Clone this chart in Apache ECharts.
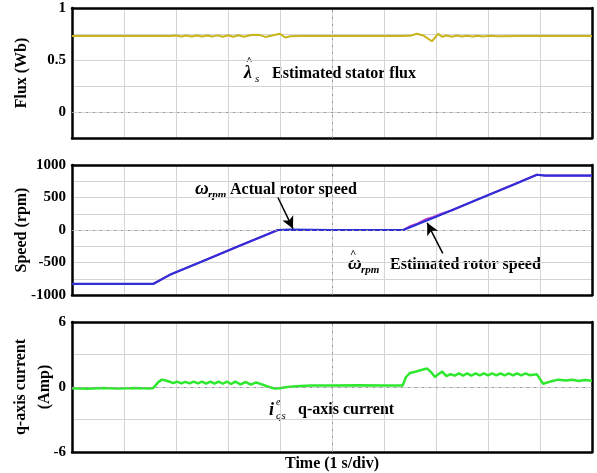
<!DOCTYPE html>
<html>
<head>
<meta charset="utf-8">
<script src="https://cdn.jsdelivr.net/npm/echarts@6/dist/echarts.min.js"></script>
<style>
  html, body { margin: 0; padding: 0; background: #fff; }
  #chart { width: 597px; height: 473px; }
</style>
</head>
<body>
<div id="chart"></div>
<script>
// tick labels shown on each panel
const fluxLabels = ['1', '0.5', '0'];
const speedLabels = ['1000', '500', '0', '-500', '-1000'];
const currentLabels = ['6', '0', '-6'];

// estimated stator flux (Wb)
const fluxData = [
  [0, 0.73], [0.5, 0.73], [1.0, 0.731], [1.5, 0.73], [1.9, 0.731],
  [2.0, 0.735], [2.1, 0.726], [2.2, 0.735], [2.3, 0.726], [2.4, 0.736],
  [2.5, 0.725], [2.6, 0.736], [2.7, 0.725], [2.8, 0.737], [2.9, 0.724],
  [3.0, 0.738], [3.1, 0.724], [3.2, 0.738], [3.3, 0.723], [3.45, 0.74],
  [3.6, 0.742], [3.72, 0.722], [3.85, 0.735], [4.0, 0.752], [4.1, 0.716],
  [4.2, 0.728], [4.4, 0.731], [4.8, 0.73], [5.3, 0.731], [5.8, 0.73],
  [6.3, 0.73], [6.5, 0.732], [6.63, 0.752], [6.76, 0.735], [6.92, 0.68],
  [7.04, 0.752], [7.12, 0.722], [7.2, 0.736], [7.3, 0.724], [7.4, 0.735],
  [7.5, 0.725], [7.6, 0.734], [7.7, 0.726], [7.8, 0.733], [7.9, 0.727],
  [8.0, 0.732], [8.2, 0.729], [8.6, 0.731], [9.0, 0.73], [9.5, 0.73], [10, 0.73]
];

// actual rotor speed (rpm)
const speedActual = [
  [0, -830], [1.0, -830], [1.56, -830], [1.88, -690], [2.5, -485],
  [3.2, -250], [3.96, 0], [4.2, 5], [5.0, 0], [6.0, 0], [6.37, 0],
  [7.0, 205], [7.8, 470], [8.5, 700], [8.94, 850], [9.1, 838], [10, 838]
];

// estimated rotor speed (rpm)
const speedEstimated = [
  [0, -830], [1.56, -830], [1.88, -690], [3.2, -250], [3.96, 0],
  [5.0, 0], [6.37, 0], [6.5, 60], [6.65, 100], [6.8, 165], [6.95, 200],
  [7.1, 250], [7.3, 300], [7.8, 470], [8.94, 850], [9.1, 838], [10, 838]
];

// q-axis current (Amp)
const currentData = [
  [0, -0.12], [0.3, -0.16], [0.6, -0.1], [0.9, -0.15], [1.2, -0.1], [1.5, -0.14],
  [1.56, -0.1], [1.66, 0.45], [1.73, 0.68], [1.8, 0.6], [1.88, 0.48], [1.95, 0.36],
  [2.02, 0.5], [2.1, 0.33], [2.18, 0.48], [2.26, 0.33], [2.34, 0.49], [2.42, 0.33],
  [2.5, 0.5], [2.58, 0.32], [2.66, 0.5], [2.74, 0.31], [2.82, 0.5], [2.9, 0.3],
  [2.98, 0.5], [3.06, 0.28], [3.14, 0.5], [3.24, 0.25], [3.34, 0.46], [3.44, 0.22],
  [3.54, 0.42], [3.64, 0.26], [3.76, 0.05], [3.9, -0.15], [4.0, -0.12], [4.1, -0.02],
  [4.3, 0.08], [4.6, 0.14], [5.0, 0.15], [5.5, 0.16], [6.0, 0.15], [6.36, 0.15],
  [6.42, 0.9], [6.5, 1.3], [6.6, 1.4], [6.7, 1.55], [6.83, 1.7], [6.9, 1.4],
  [6.98, 0.92], [7.05, 1.2], [7.12, 1.42], [7.2, 1.0], [7.28, 1.18], [7.36, 1.05],
  [7.44, 1.25], [7.52, 1.06], [7.6, 1.26], [7.68, 1.06], [7.76, 1.25], [7.84, 1.07],
  [7.92, 1.26], [8.0, 1.07], [8.08, 1.25], [8.16, 1.08], [8.24, 1.26], [8.32, 1.08],
  [8.4, 1.25], [8.48, 1.08], [8.56, 1.26], [8.64, 1.08], [8.72, 1.25], [8.8, 1.09],
  [8.94, 1.17], [9.06, 0.3], [9.2, 0.5], [9.35, 0.68], [9.5, 0.6], [9.62, 0.66],
  [9.74, 0.56], [9.86, 0.64], [10, 0.58]
];

const serif = "'Liberation Serif', 'Times New Roman', serif";
const L = 72, W = 520, H = 130;
const tops = [8, 165, 322];
const frame = { show: true, onZero: false, lineStyle: { color: '#000', width: 2.5 } };
const gridLine = { show: true, lineStyle: { color: '#d4d4d4', width: 1 } };

const chart = echarts.init(document.getElementById('chart'));

function xAxisFor(i, extra) {
  return Object.assign({
    type: 'value', gridIndex: i, min: 0, max: 10, interval: 1, position: 'bottom',
    axisLine: frame, axisTick: { show: false }, axisLabel: { show: false },
    splitLine: gridLine
  }, extra || {});
}

function yAxisFor(i, min, max, interval, labels, name, nameGap) {
  return {
    type: 'value', gridIndex: i, min: min, max: max, interval: interval, position: 'left',
    axisLine: frame, axisTick: { show: false }, splitLine: gridLine,
    axisLabel: {
      margin: 6, color: '#000', fontFamily: serif, fontWeight: 'bold', fontSize: 15,
      formatter: (v) => (labels.indexOf(String(v)) >= 0 ? String(v) : '')
    },
    name: name, nameLocation: 'middle', nameRotate: 90, nameGap: nameGap, nameMoveOverlap: false,
    nameTextStyle: { color: '#000', fontFamily: serif, fontWeight: 'bold', fontSize: 16, lineHeight: 24 }
  };
}

// frame-only axes on the top and right of each panel
function topFrame(i) {
  return { type: 'value', gridIndex: i, min: 0, max: 10, interval: 1, position: 'top', axisLine: frame,
    axisTick: { show: false }, axisLabel: { show: false }, splitLine: { show: false } };
}
function rightFrame(i, min, max, interval) {
  return { type: 'value', gridIndex: i, min: min, max: max, interval: interval, position: 'right', axisLine: frame,
    axisTick: { show: false }, axisLabel: { show: false }, splitLine: { show: false } };
}

const zeroLine = {
  silent: true, symbol: 'none', label: { show: false },
  lineStyle: { color: '#9a9a9a', type: [2, 5], width: 1 },
  data: [{ yAxis: 0 }, { xAxis: 5 }]
};

const txt = (left, top, text, font) => ({ type: 'text', left, top, style: { text, font, fill: '#000' } });

const option = {
  animation: false,
  backgroundColor: '#fff',
  grid: tops.map((t) => ({
    left: L, top: t, width: W, height: H, outerBoundsMode: 'none'
  })),
  xAxis: [
    xAxisFor(0), xAxisFor(1),
    xAxisFor(2, {
      name: 'Time (1 s/div)', nameLocation: 'middle', nameGap: 4,
      nameTextStyle: { color: '#000', fontFamily: serif, fontWeight: 'bold', fontSize: 16, verticalAlign: 'top' }
    }),
    topFrame(0), topFrame(1), topFrame(2)
  ],
  yAxis: [
    yAxisFor(0, -0.25, 1, 0.25, fluxLabels, 'Flux (Wb)', 38),
    yAxisFor(1, -1000, 1000, 250, speedLabels, 'Speed (rpm)', 38),
    yAxisFor(2, -6, 6, 3, currentLabels, 'q-axis current\n(Amp)', 15),
    rightFrame(0, -0.25, 1, 0.25), rightFrame(1, -1000, 1000, 250), rightFrame(2, -6, 6, 3)
  ],
  series: [
    {
      type: 'line', xAxisIndex: 0, yAxisIndex: 0, data: fluxData, showSymbol: false,
      lineStyle: { color: '#c9b51a', width: 2 }, markLine: zeroLine
    },
    {
      type: 'line', xAxisIndex: 1, yAxisIndex: 1, data: speedEstimated, showSymbol: false,
      lineStyle: { color: '#c640d4', width: 2 }, markLine: zeroLine
    },
    {
      type: 'line', xAxisIndex: 1, yAxisIndex: 1, data: speedActual, showSymbol: false,
      lineStyle: { color: '#2f2fd8', width: 2.2 },
      markLine: {
        silent: true, symbol: ['none', 'arrow'], symbolSize: [9, 12], label: { show: false },
        lineStyle: { color: '#000', type: 'solid', width: 1.5 },
        data: [
          [{ coord: [3.96, 500] }, { coord: [4.25, 20] }],
          [{ coord: [7.13, -360] }, { coord: [6.83, 110] }]
        ]
      }
    },
    {
      type: 'line', xAxisIndex: 2, yAxisIndex: 2, data: currentData, showSymbol: false,
      lineStyle: { color: '#2ee82e', width: 2.5 }, markLine: zeroLine
    }
  ],
  graphic: [
    // flux annotation
    txt(246, 56, '^', `bold 11px ${serif}`),
    txt(244, 64, 'λ', `italic bold 18px ${serif}`),
    txt(255, 74, 's', `italic 11px ${serif}`),
    txt(272, 66, 'Estimated stator flux', `bold 16px ${serif}`),
    // actual speed annotation
    txt(195, 180, 'ω', `italic bold 19px ${serif}`),
    txt(208, 190, 'rpm', `italic bold 11px ${serif}`),
    txt(230, 182, 'Actual rotor speed', `bold 16px ${serif}`),
    // estimated speed annotation
    txt(350, 249, '^', `bold 11px ${serif}`),
    txt(348, 255, 'ω', `italic bold 19px ${serif}`),
    txt(361, 265, 'rpm', `italic bold 11px ${serif}`),
    txt(390, 257, 'Estimated rotor speed', `bold 16px ${serif}`),
    // current annotation
    txt(269, 401, 'i', `italic bold 18px ${serif}`),
    txt(276, 397, 'e', `italic 10px ${serif}`),
    txt(276, 411, 'qs', `italic 11px ${serif}`),
    txt(298, 402, 'q-axis current', `bold 16px ${serif}`)
  ]
};

chart.setOption(option);
</script>
</body>
</html>
